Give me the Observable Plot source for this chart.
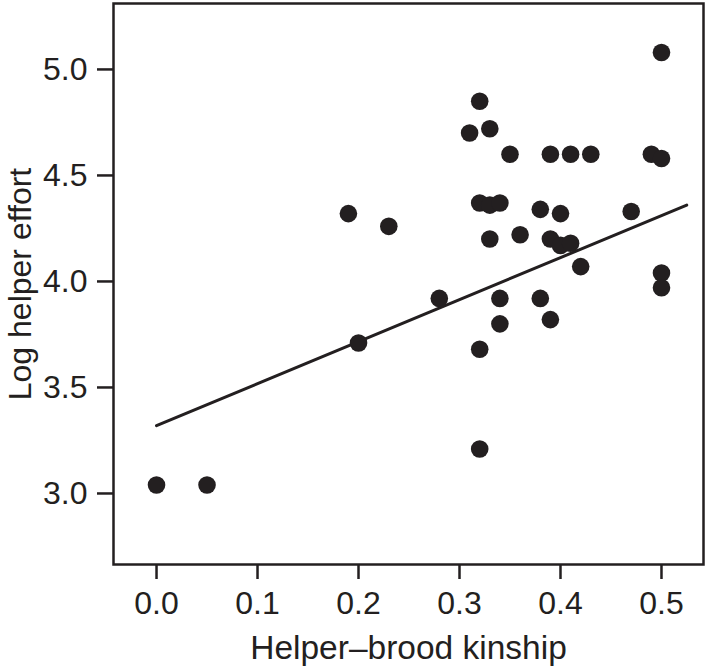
<!DOCTYPE html>
<html>
<head>
<meta charset="utf-8">
<script src="https://cdn.jsdelivr.net/npm/d3@7"></script>
<script src="https://cdn.jsdelivr.net/npm/@observablehq/plot@0.6"></script>
<style>
  html, body { margin: 0; padding: 0; background: #fff; }
</style>
</head>
<body>
<div id="chart"></div>
<script>
const kinship = [0.00, 0.05, 0.19, 0.20, 0.23, 0.28, 0.31, 0.32, 0.32, 0.32, 0.32, 0.33, 0.33, 0.33, 0.34, 0.34, 0.34, 0.35, 0.36, 0.38, 0.38, 0.39, 0.39, 0.39, 0.40, 0.40, 0.41, 0.41, 0.42, 0.43, 0.47, 0.49, 0.50, 0.50, 0.50, 0.50];
const effort  = [3.04, 3.04, 4.32, 3.71, 4.26, 3.92, 4.70, 4.85, 4.37, 3.68, 3.21, 4.72, 4.36, 4.20, 4.37, 3.92, 3.80, 4.60, 4.22, 4.34, 3.92, 4.60, 4.20, 3.82, 4.32, 4.17, 4.18, 4.60, 4.07, 4.60, 4.33, 4.60, 4.58, 5.08, 4.04, 3.97];
const fitX = [0.0, 0.525];
const fitY = [3.32, 4.36];
const xTicks = [0.0, 0.1, 0.2, 0.3, 0.4, 0.5];
const yTicks = [3.0, 3.5, 4.0, 4.5, 5.0];
const xLabel = "Helper–brood kinship";
const yLabel = "Log helper effort";

const ink = "#231f20";
const points = kinship.map((k, i) => ({k, e: effort[i]}));
const fit = fitX.map((x, i) => ({x, y: fitY[i]}));

const chart = Plot.plot({
  width: 707,
  height: 666,
  marginLeft: 113,
  marginRight: 4,
  marginTop: 3,
  marginBottom: 102,
  style: {fontFamily: "'Liberation Sans', Arial, sans-serif", color: ink, background: "#fff"},
  x: {domain: [-0.0426, 0.5416]},
  y: {domain: [2.665, 5.311]},
  marks: [
    Plot.axisX({ticks: xTicks, tickFormat: d3.format(".1f"), tickSize: 15, tickPadding: 12, fontSize: 32, strokeWidth: 2.5, label: null}),
    Plot.axisY({ticks: yTicks, tickFormat: d3.format(".1f"), tickSize: 16, tickPadding: 10, fontSize: 32, strokeWidth: 2.5, label: null}),
    Plot.text([xLabel], {frameAnchor: "bottom", dy: 94, lineAnchor: "bottom", textAnchor: "middle", fontSize: 33.5, fill: ink, text: d => d}),
    Plot.text([yLabel], {frameAnchor: "left", dx: -83, rotate: -90, lineAnchor: "bottom", textAnchor: "middle", fontSize: 32, fill: ink, text: d => d}),
    Plot.frame({stroke: ink, strokeWidth: 2.5}),
    Plot.line(fit, {x: "x", y: "y", stroke: ink, strokeWidth: 3}),
    Plot.dot(points, {x: "k", y: "e", r: 8.8, fill: ink, stroke: "none"})
  ]
});
document.getElementById("chart").appendChild(chart);
</script>
</body>
</html>
